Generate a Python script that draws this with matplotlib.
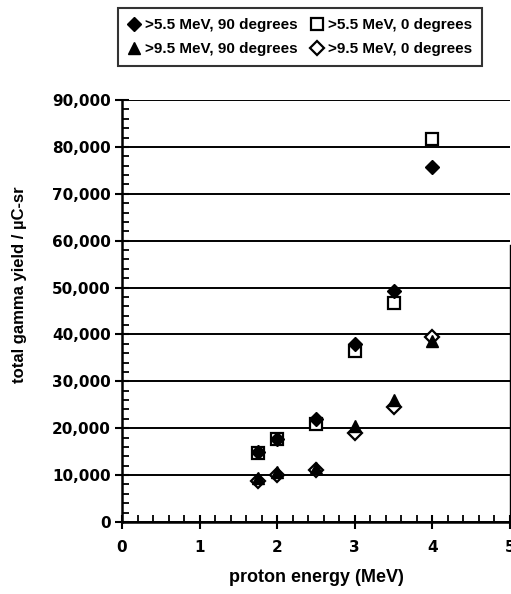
import numpy as np
import matplotlib.pyplot as plt
from matplotlib.ticker import MultipleLocator, FuncFormatter

plt.rcParams['font.family'] = ['Liberation Sans', 'DejaVu Sans']

# proton energies (MeV)
energy = [1.75, 2.0, 2.5, 3.0, 3.5, 4.0]

# total gamma yield / uC-sr
gt55_90 = [15000, 17800, 22000, 38000, 49200, 75800]
gt55_0 = [14700, 17600, 21000, 36500, 46800, 81700]
gt95_90 = [9300, 10600, 11500, 20500, 26000, 38600]
gt95_0 = [8700, 10000, 11000, 19000, 24500, 39500]

labels = ['>5.5 MeV, 90 degrees', '>5.5 MeV, 0 degrees',
          '>9.5 MeV, 90 degrees', '>9.5 MeV, 0 degrees']

fig = plt.figure(figsize=(5.11, 5.94), dpi=100)
ax = fig.add_axes([122/511, 1-522/594, (510-122)/511, (522-100)/594])

ms = 8
# open markers underneath, filled ones on top (as in the scan)
h2, = ax.plot(energy, gt55_0, 's', mfc='white', mec='black', mew=1.6, ms=ms+0.5, label=labels[1], zorder=3)
h4, = ax.plot(energy, gt95_0, 'D', mfc='white', mec='black', mew=1.6, ms=ms-1, label=labels[3], zorder=3)
h1, = ax.plot(energy, gt55_90, 'D', color='black', ms=ms-1, label=labels[0], zorder=4)
h3, = ax.plot(energy, gt95_90, '^', color='black', ms=ms+1, label=labels[2], zorder=4)

ax.set_xlim(0, 5)
ax.set_ylim(0, 90000)
ax.xaxis.set_major_locator(MultipleLocator(1))
ax.xaxis.set_minor_locator(MultipleLocator(0.2))
ax.yaxis.set_major_locator(MultipleLocator(10000))
ax.yaxis.set_minor_locator(MultipleLocator(2000))
ax.yaxis.set_major_formatter(FuncFormatter(lambda v, p: f'{int(v):,}'))

ax.grid(axis='y', which='major', color='black', linewidth=1.4)
ax.set_axisbelow(True)

ax.tick_params(axis='both', which='major', direction='inout', length=10, width=1.5,
               colors='black')
ax.tick_params(axis='both', which='minor', direction='in', length=5, width=1.3)
ax.tick_params(axis='x', pad=8)
ax.tick_params(axis='y', pad=3)
for lab in ax.get_xticklabels() + ax.get_yticklabels():
    lab.set_family('DejaVu Sans')
    lab.set_fontweight('bold')
    lab.set_fontsize(11)

ax.spines['top'].set_visible(False)
ax.spines['left'].set_linewidth(1.8)
ax.spines['bottom'].set_linewidth(1.8)
ax.spines['right'].set_linewidth(1.0)
ax.spines['right'].set_bounds(0, 59000)

ax.set_xlabel('proton energy (MeV)', fontsize=13, fontweight='bold', labelpad=10)
ax.set_ylabel('total gamma yield / \u00b5C-sr', fontsize=12, fontweight='bold')
ax.yaxis.set_label_coords(-0.245, 0.562)

leg = fig.legend(handles=[h1, h3, h2, h4], ncol=2, loc='upper left',
                 bbox_to_anchor=(118/511, 1-8/594),
                 borderaxespad=0, frameon=True, fancybox=False,
                 prop={'size': 11, 'weight': 'bold'}, handlelength=0.8,
                 handletextpad=0.3, columnspacing=0.9, labelspacing=0.65,
                 borderpad=0.65)
leg.get_frame().set_edgecolor('black')
leg.get_frame().set_linewidth(1.5)

fig.savefig('out.png', dpi=100)
